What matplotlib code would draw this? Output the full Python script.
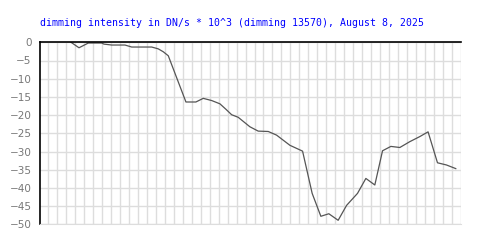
import matplotlib
matplotlib.use("Agg")
import matplotlib.pyplot as plt
import numpy as np

title = "dimming intensity in DN/s * 10^3 (dimming 13570), August 8, 2025"

# x positions in grid units (one unit per vertical gridline)
x = [2.53, 3.42, 4.46, 5.95, 6.21, 7.07, 8.55, 9.30, 11.53, 12.26, 12.82, 13.38,
     15.35, 16.46, 17.28, 18.22, 19.14, 19.81, 20.45, 21.18, 22.48, 23.41, 24.53,
     25.46, 26.95, 28.36, 29.43, 30.40, 31.29, 32.33, 33.27, 34.49, 35.42, 36.42,
     37.28, 38.21, 39.21, 40.32, 41.44, 42.36, 43.41, 44.41, 45.45]
y = [0.0, -1.5, -0.2, -0.2, -0.5, -0.75, -0.75, -1.3, -1.3, -1.8, -2.6, -3.7,
     -16.4, -16.4, -15.4, -16.0, -16.9, -18.4, -19.9, -20.6, -23.2, -24.4, -24.5,
     -25.5, -28.3, -29.9, -41.5, -47.8, -47.1, -48.9, -44.8, -41.5, -37.4, -39.2,
     -29.8, -28.6, -28.9, -27.3, -25.9, -24.6, -33.1, -33.7, -34.7]
y_ticks = list(range(0, -55, -5))

fig = plt.figure(figsize=(5, 2.5), dpi=100)
ax = fig.add_axes([0.08, 1 - 224.3 / 250, (460.7 - 40) / 500, (224.3 - 42.3) / 250])

ax.set_xlim(-0.93, 46)
ax.set_ylim(-50, 0)
ax.set_xticks(np.arange(0, 47, 1))
ax.set_yticks(y_ticks)
ax.set_yticklabels([f"{v}".replace("-", "\u2212") for v in y_ticks])
ax.tick_params(axis="x", length=0, labelbottom=False)
ax.tick_params(axis="y", length=0, pad=6, labelsize=7.5, labelcolor="#777777")
ax.grid(True, color="#dddddd", linewidth=1.0)
ax.set_axisbelow(True)

ax.spines["right"].set_visible(False)
ax.spines["bottom"].set_color("#dddddd")
ax.spines["left"].set_color("black")
ax.spines["top"].set_color("black")
ax.spines["left"].set_linewidth(1.2)
ax.spines["top"].set_linewidth(1.2)

ax.plot(x, y, color="#555555", linewidth=0.9, clip_on=True)

fig.text(40 / 500, 1 - 22.5 / 250, title, color="#0000ff", fontsize=7.1,
         family="DejaVu Sans Mono", ha="left", va="center")

fig.savefig("out.png", dpi=100, facecolor="white")
